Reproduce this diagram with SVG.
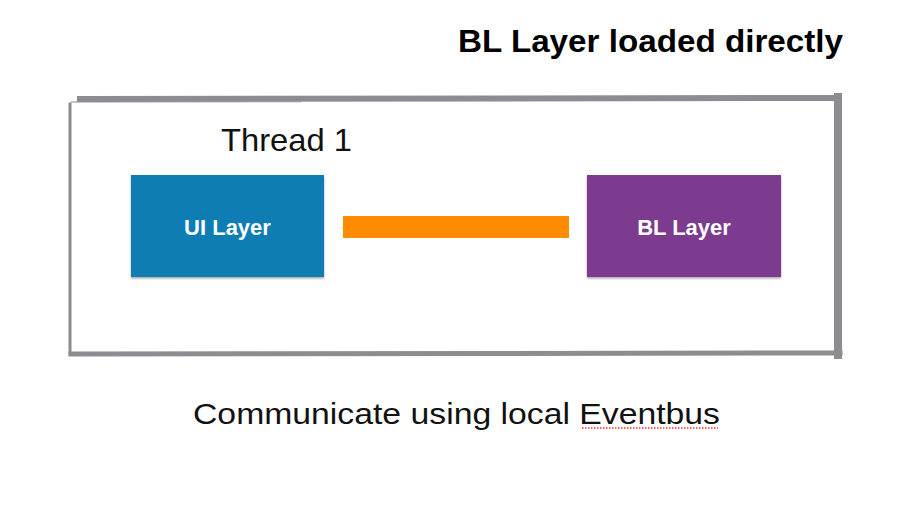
<svg xmlns="http://www.w3.org/2000/svg" width="921" height="519" viewBox="0 0 921 519">
<defs>
<style>
.frame{fill:none;stroke:#8b8d90;stroke-linecap:square}
.node-rect{stroke:none}
.lbl{font-family:"Liberation Sans",Arial,sans-serif;font-weight:bold;font-size:22px;fill:#ffffff;text-anchor:middle}
.light{font-family:"Liberation Sans",Arial,sans-serif;font-weight:normal;fill:#111111}
</style>
<filter id="sh" x="-5%" y="-5%" width="110%" height="115%">
<feDropShadow dx="0" dy="1.5" stdDeviation="1" flood-color="#000" flood-opacity="0.35"/>
</filter>
</defs>
<rect width="921" height="519" fill="#ffffff"/>
<text x="458" y="52" font-family="Liberation Sans,Arial,sans-serif" font-weight="bold" font-size="31" fill="#000" textLength="385" lengthAdjust="spacingAndGlyphs">BL Layer loaded directly</text>
<g id="frame">
<path class="frame" d="M80 99 L838 98" stroke-width="6"/>
<path class="frame" d="M72 102 L300 101.5" stroke-width="2" opacity="0.5"/>
<path class="frame" d="M838 97 L838 355" stroke-width="8"/>
<path class="frame" d="M71 354 L840 353" stroke-width="5"/>
<path class="frame" d="M70 104 L70 353" stroke-width="3"/>
</g>
<text class="light" x="221" y="151" font-size="32" textLength="131" lengthAdjust="spacingAndGlyphs">Thread 1</text>
<g id="connectors">
<rect x="343" y="216" width="226" height="22" fill="#ff8b00"/>
</g>
<g id="ui-layer">
<rect class="node-rect" x="131" y="175" width="193" height="102" fill="#0c7db4" filter="url(#sh)"/>
<text class="lbl" x="227.5" y="235">UI Layer</text>
</g>
<g id="bl-layer">
<rect class="node-rect" x="587" y="175" width="194" height="102" fill="#7c3b8e" filter="url(#sh)"/>
<text class="lbl" x="684" y="235">BL Layer</text>
</g>
<text class="light" x="193" y="424" font-size="29" textLength="527" lengthAdjust="spacingAndGlyphs">Communicate using local Eventbus</text>
<line x1="582" y1="428" x2="718" y2="428" stroke="#ff2a2a" stroke-width="1.5" stroke-dasharray="1.5 1.5"/>
</svg>
